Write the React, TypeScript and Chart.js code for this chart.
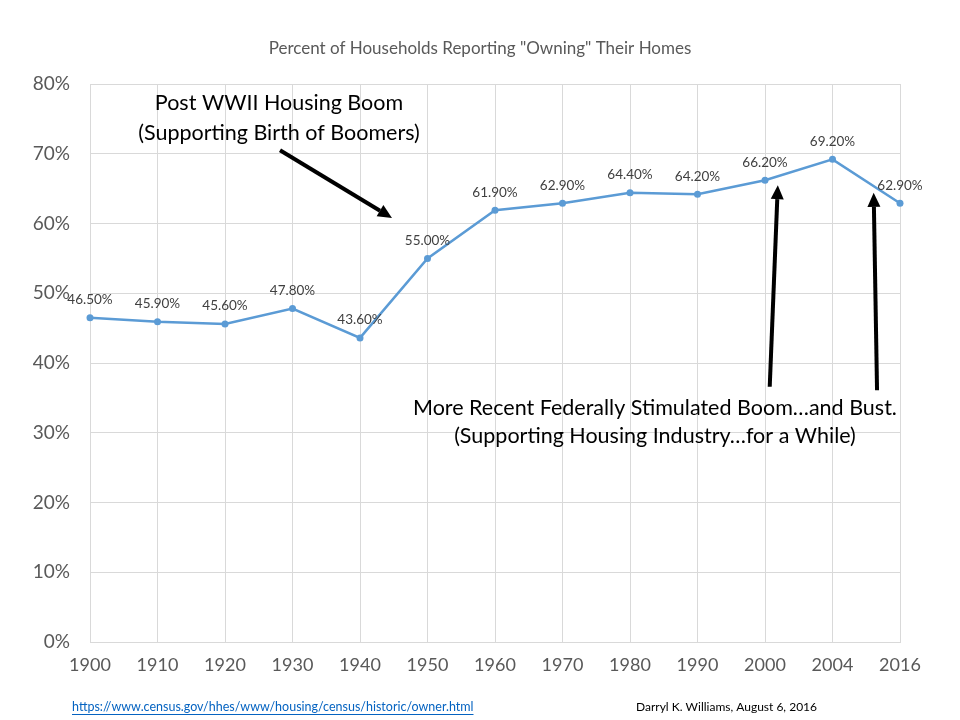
import React, { useEffect, useRef } from "react";
import { Chart, registerables } from "chart.js";

Chart.register(...registerables);

const years = ["1900", "1910", "1920", "1930", "1940", "1950", "1960", "1970", "1980", "1990", "2000", "2004", "2016"];
const ownership = [46.5, 45.9, 45.6, 47.8, 43.6, 55.0, 61.9, 62.9, 64.4, 64.2, 66.2, 69.2, 62.9];
const yTicks = [0, 10, 20, 30, 40, 50, 60, 70, 80];

const titleText = 'Percent of Households Reporting "Owning" Their Homes';
const boomLines = ["Post WWII Housing Boom", "(Supporting Birth of Boomers)"];
const bustLines = ["More Recent Federally Stimulated Boom…and Bust.", "(Supporting Housing Industry…for a While)"];
const sourceText = "https://www.census.gov/hhes/www/housing/census/historic/owner.html";
const authorText = "Darryl K. Williams, August 6, 2016";

// annotation anchors in data space: [category index, value]
const boomTextAnchor = [2.8, 77.3, 73.0];
const bustTextAnchor = [8.37, 33.5, 29.5];
const arrows = [
  [2.815, 70.5, 4.474, 60.8],
  [10.07, 36.6, 10.19, 65.5],
  [11.66, 36.1, 11.61, 64.4],
];

const FONT = "Lato, 'Open Sans', sans-serif";

const overlay = {
  id: "overlay",
  afterDatasetsDraw(chart: any) {
    const ctx = chart.ctx as CanvasRenderingContext2D;
    const xs = chart.scales.x;
    const ys = chart.scales.y;
    const px = (i: number) => xs.getPixelForValue(i);
    const py = (v: number) => ys.getPixelForValue(v);
    ctx.save();
    // data labels
    const meta = chart.getDatasetMeta(0);
    ctx.font = `13.5px ${FONT}`;
    ctx.fillStyle = "#404040";
    ctx.textAlign = "center";
    ctx.textBaseline = "middle";
    meta.data.forEach((pt: any, i: number) => {
      ctx.fillText(ownership[i].toFixed(2) + "%", pt.x, pt.y - 18);
    });
    // annotation text
    ctx.fillStyle = "#000000";
    ctx.font = `21.5px ${FONT}`;
    boomLines.forEach((t, k) => ctx.fillText(t, px(boomTextAnchor[0]), py(boomTextAnchor[1 + k])));
    bustLines.forEach((t, k) => ctx.fillText(t, px(bustTextAnchor[0]), py(bustTextAnchor[1 + k])));
    // arrows
    arrows.forEach(([i0, v0, i1, v1]) => {
      const x0 = px(i0), y0 = py(v0), x1 = px(i1), y1 = py(v1);
      const ang = Math.atan2(y1 - y0, x1 - x0);
      const headLen = 14, headW = 6.5;
      const bx = x1 - headLen * Math.cos(ang), by = y1 - headLen * Math.sin(ang);
      ctx.strokeStyle = "#000";
      ctx.lineWidth = 4;
      ctx.lineCap = "butt";
      ctx.beginPath();
      ctx.moveTo(x0, y0);
      ctx.lineTo(bx, by);
      ctx.stroke();
      ctx.beginPath();
      ctx.moveTo(x1, y1);
      ctx.lineTo(bx + headW * Math.sin(ang), by - headW * Math.cos(ang));
      ctx.lineTo(bx - headW * Math.sin(ang), by + headW * Math.cos(ang));
      ctx.closePath();
      ctx.fillStyle = "#000";
      ctx.fill();
    });
    // title
    ctx.font = `17px ${FONT}`;
    ctx.fillStyle = "#595959";
    ctx.fillText(titleText, 480, 49);
    // footer
    ctx.font = `12.5px ${FONT}`;
    ctx.textAlign = "left";
    ctx.fillStyle = "#0563C1";
    ctx.fillText(sourceText, 72, 707);
    const w = ctx.measureText(sourceText).width;
    ctx.fillRect(72, 714, w, 1);
    ctx.fillStyle = "#000";
    ctx.font = `12px ${FONT}`;
    ctx.fillText(authorText, 636, 707);
    ctx.restore();
  },
};

export default function App() {
  const ref = useRef<HTMLCanvasElement | null>(null);
  useEffect(() => {
    document.body.style.margin = "0";
    const chart = new Chart(ref.current as HTMLCanvasElement, {
      type: "line",
      data: {
        labels: years,
        datasets: [
          {
            data: ownership,
            borderColor: "#5B9BD5",
            backgroundColor: "#5B9BD5",
            borderWidth: 2.5,
            pointRadius: 3.5,
            pointBorderWidth: 0,
            tension: 0,
          },
        ],
      },
      options: {
        animation: false,
        responsive: false,
        layout: { padding: { top: 84, right: 60, left: 0, bottom: 0 } },
        plugins: { legend: { display: false }, tooltip: { enabled: false }, title: { display: false } },
        scales: {
          x: {
            offset: false,
            grid: { color: "#d9d9d9", drawTicks: false },
            border: { color: "#d9d9d9" },
            ticks: { color: "#595959", font: { size: 18, family: FONT }, padding: 12, maxRotation: 0, autoSkip: false },
            afterFit: (s: any) => { s.height = 78; },
          },
          y: {
            min: 0,
            max: 80,
            afterBuildTicks: (s: any) => { s.ticks = yTicks.map((v) => ({ value: v })); },
            grid: { color: "#d9d9d9", drawTicks: false },
            border: { display: false },
            ticks: { color: "#595959", font: { size: 19, family: FONT }, padding: 20, callback: (v: any) => v + "%" },
            afterFit: (s: any) => { s.width = 90; },
          },
        },
      },
      plugins: [overlay],
    });
    return () => chart.destroy();
  }, []);
  return (
    <div style={{ width: 960, height: 720, background: "#fff" }}>
      <canvas ref={ref} width={960} height={720} style={{ display: "block" }} />
    </div>
  );
}
